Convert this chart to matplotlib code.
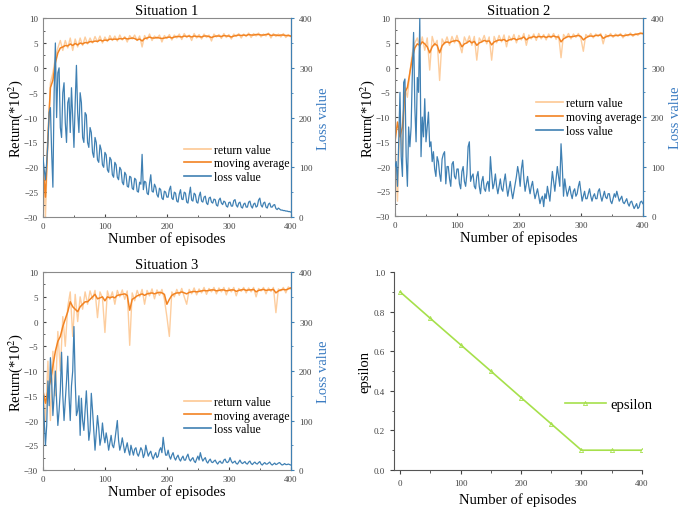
import matplotlib
matplotlib.use("Agg")
import matplotlib.pyplot as plt
from matplotlib.ticker import MultipleLocator, FormatStrFormatter
from matplotlib.lines import Line2D

plt.rcParams['font.family'] = ['Liberation Serif', 'DejaVu Serif']
plt.rcParams['mathtext.fontset'] = 'stix'

episodes = list(range(0, 401, 4))       # return / moving average samples
loss_episodes = list(range(0, 401, 2))  # loss samples

# Situation 1
return_1 = [-20, -30, -14, -3, -1, 2, 4, 5.5, 3.5, 5.5, 4.0, 6.0, 3.5, 5.8, 4.2, 6.0, 4.5, 6.2, 4.8, 6.0,
            5.0, 6.3, 5.2, 6.4, 5.0, 6.2, 5.3, 6.5, 5.5, 6.4, 5.4, 6.6, 5.6, 6.3, 5.2, 6.5, 5.8, 6.6, 5.5, 6.4,
            4.2, 6.5, 5.7, 6.8, 5.5, 6.4, 5.9, 6.6, 5.2, 6.5, 5.9, 6.7, 5.6, 6.6, 6.0, 6.8, 5.7, 6.9, 6.1, 6.6,
            5.5, 6.9, 6.0, 6.7, 5.8, 6.8, 6.1, 6.6, 5.4, 6.8, 6.2, 6.7, 5.9, 6.9, 6.1, 6.7, 5.8, 6.8, 6.3, 6.9,
            6.0, 6.8, 6.3, 7.0, 6.1, 6.9, 6.4, 7.0, 6.2, 6.8, 6.4, 7.0, 6.0, 6.9, 6.3, 6.8, 6.2, 6.9, 6.1, 6.7, 6.3]
moving_1 = [-20, -26, -14, -4, -2.5, 1, 3, 4, 4.2, 4.5, 4.4, 4.8, 4.5, 4.9, 4.6, 5.0, 4.8, 5.1, 5.0, 5.3,
            5.2, 5.4, 5.3, 5.6, 5.4, 5.6, 5.5, 5.8, 5.7, 5.8, 5.7, 5.9, 5.8, 6.0, 5.8, 5.9, 6.0, 5.9, 5.6, 5.8,
            5.4, 5.9, 6.0, 6.2, 6.0, 6.0, 6.1, 6.0, 5.9, 6.0, 6.1, 6.2, 6.0, 6.2, 6.3, 6.3, 6.2, 6.4, 6.3, 6.4,
            6.2, 6.4, 6.3, 6.3, 6.2, 6.4, 6.4, 6.3, 6.1, 6.3, 6.4, 6.4, 6.3, 6.5, 6.4, 6.4, 6.2, 6.4, 6.5, 6.6,
            6.5, 6.6, 6.5, 6.7, 6.6, 6.6, 6.7, 6.7, 6.6, 6.6, 6.7, 6.8, 6.5, 6.6, 6.6, 6.5, 6.6, 6.6, 6.5, 6.5, 6.4]
loss_1 = [120, 95, 75, 110, 150, 210, 220, 130, 60, 250, 350,
          200, 290, 300, 180, 160, 250, 270, 190, 150, 230,
          240, 170, 260, 200, 140, 230, 305, 210, 170, 250,
          230, 160, 150, 210, 205, 150, 140, 180, 170, 130,
          120, 160, 150, 115, 110, 145, 135, 105, 100, 130,
          125, 95, 90, 120, 115, 85, 80, 110, 105, 80,
          75, 100, 95, 70, 65, 90, 85, 62, 60, 82,
          80, 58, 55, 78, 75, 52, 50, 70, 66, 126,
          55, 72, 70, 48, 45, 68, 85, 52, 50, 66,
          60, 45, 40, 58, 55, 38, 35, 52, 50, 40,
          40, 55, 62, 38, 35, 50, 48, 32, 30, 46,
          55, 36, 35, 50, 48, 30, 28, 45, 60, 34,
          32, 48, 45, 30, 28, 42, 50, 32, 30, 40,
          42, 28, 25, 38, 40, 30, 28, 36, 35, 24,
          22, 34, 38, 28, 25, 32, 30, 22, 20, 29,
          30, 22, 22, 33, 35, 24, 20, 28, 30, 20,
          18, 26, 28, 20, 20, 30, 32, 22, 18, 26,
          28, 20, 22, 34, 38, 24, 20, 28, 30, 20,
          18, 26, 28, 20, 20, 24, 25, 17, 15, 18,
          16, 14, 14, 13, 13, 12, 12, 11, 11, 10]

# Situation 2
return_2 = [-15, -27, -10, -18, -4, -6, -1, 3, 5, 6, 4, 6.2, 3.5, 6.0, -0.5, 6.3, 4.5, 5.5, -2.6, 5.8,
            4.8, 6.2, 4.5, 6.3, 5.0, 6.5, 4.8, 3.0, 6.2, 5.0, 6.4, 4.5, 6.3, 1.5, 6.0, 5.2, 6.5, 4.8, 6.2, 1.5,
            6.3, 5.0, 6.5, 5.2, 6.6, 4.2, 6.4, 5.5, 6.7, 5.0, 6.5, 5.6, 6.9, 4.5, 6.6, 5.8, 6.8, 5.5, 6.9, 5.8,
            6.7, 5.6, 6.8, 6.0, 6.9, 5.7, 6.6, 2.0, 6.7, 6.0, 6.9, 5.8, 6.8, 6.1, 6.9, 5.9, 3.3, 6.7, 6.2, 6.9,
            6.0, 6.8, 6.3, 6.9, 4.8, 6.7, 6.2, 6.9, 6.1, 6.8, 6.3, 6.9, 6.0, 6.8, 6.4, 7.0, 6.3, 6.9, 6.5, 7.1, 6.8]
moving_2 = [-15, -11, -14, -12, -5, -4, -1, 2, 4, 4.8, 4.5, 5.2, 4.8, 4.2, 3.0, 4.2, 4.8, 4.5, 3.0, 4.4,
            5.0, 5.2, 5.0, 5.3, 5.4, 5.5, 5.2, 4.2, 4.8, 5.0, 5.4, 5.0, 5.3, 4.5, 5.0, 5.2, 5.5, 5.3, 5.4, 4.6,
            5.2, 5.4, 5.6, 5.5, 5.7, 5.3, 5.6, 5.7, 5.9, 5.6, 5.8, 5.9, 6.2, 5.6, 6.0, 6.1, 6.3, 6.1, 6.3, 6.2,
            6.3, 6.1, 6.3, 6.2, 6.4, 6.2, 6.2, 5.2, 5.8, 6.1, 6.3, 6.2, 6.3, 6.4, 6.5, 6.3, 5.6, 6.0, 6.3, 6.4,
            6.3, 6.5, 6.5, 6.6, 5.9, 6.2, 6.4, 6.5, 6.4, 6.5, 6.5, 6.6, 6.4, 6.5, 6.6, 6.7, 6.6, 6.7, 6.8, 6.9, 6.9]
loss_2 = [100, 110, 60, 150, 250, 120, 80, 270, 277, 120, 60,
          180, 140, 180, 290, 371, 220, 150, 280, 250, 400,
          120, 200, 160, 237, 150, 180, 210, 140, 150, 110,
          130, 95, 80, 120, 110, 85, 70, 115, 125, 130,
          65, 100, 100, 75, 60, 105, 110, 80, 75, 95,
          95, 65, 55, 90, 100, 70, 60, 85, 140, 150,
          70, 80, 85, 60, 55, 80, 90, 60, 45, 70,
          80, 55, 50, 65, 70, 50, 120, 85, 55, 65,
          85, 60, 45, 60, 75, 55, 50, 70, 85, 60,
          40, 55, 70, 50, 35, 50, 65, 80, 100, 85,
          60, 95, 113, 75, 50, 65, 80, 60, 45, 60,
          70, 50, 35, 45, 55, 40, 25, 35, 40, 19,
          45, 35, 60, 45, 30, 60, 90, 70, 50, 75,
          100, 80, 60, 146, 100, 40, 75, 55, 40, 50,
          60, 45, 35, 50, 55, 40, 45, 60, 70, 50,
          30, 40, 50, 35, 35, 45, 55, 40, 30, 40,
          45, 35, 35, 50, 55, 40, 30, 40, 50, 38,
          35, 45, 45, 30, 25, 35, 45, 38, 50, 40,
          30, 35, 40, 28, 25, 30, 35, 25, 20, 28,
          30, 22, 15, 20, 25, 15, 18, 28, 30, 25]

# Situation 3
return_3 = [-14, -20, -8, -20, -6, -15, -2, -10, 1, -5, 3, 6, -3, 5.5, 0, 5, 2.5, 6, 3.5, 6.2,
            4.5, 6.3, 0.8, 6.0, 4.8, -2.2, 6.2, 4.5, 6.0, 3.5, 6.3, 5.0, 6.4, 4.5, 6.2, -4.8, 5.8, 4.2, 6.3, 5.0,
            6.5, 3.5, 6.3, 5.2, 6.6, 4.6, 6.4, 5.3, 6.5, 4.5, 1.0, -3.0, 6.0, 5.0, 6.5, 5.3, 6.7, 5.0, 3.5, 6.5,
            5.6, 6.8, 5.4, 6.6, 5.8, 6.9, 5.5, 6.7, 6.0, 6.9, 5.6, 6.8, 6.0, 6.9, 5.4, 6.8, 6.0, 6.9, 5.2, 6.7,
            6.1, 6.9, 5.8, 6.8, 6.0, 6.9, 5.0, 6.7, 6.2, 6.9, 5.6, 6.8, 6.1, 6.9, 1.8, 6.6, 6.2, 6.9, 5.8, 7.0, 6.6]
moving_3 = [-14, -16.5, -14, -12, -9, -6, -4, -3, -1, 0.5, 2, 4, 3, 2.5, 2, 3, 3.5, 4, 4, 4.5,
            5, 5.5, 4.6, 4.8, 5.0, 4.2, 5.0, 4.8, 5.0, 4.8, 5.3, 5.4, 5.5, 5.6, 5.3, 2.3, 4.5, 4.8, 5.2, 5.4,
            5.6, 5.3, 5.6, 5.7, 5.8, 5.6, 5.8, 5.9, 5.8, 5.5, 3.5, 4.5, 5.3, 5.6, 5.8, 5.8, 6.0, 5.8, 5.6, 5.9,
            6.0, 6.1, 6.0, 6.1, 6.2, 6.3, 6.2, 6.3, 6.4, 6.4, 6.2, 6.3, 6.4, 6.4, 6.2, 6.3, 6.4, 6.4, 6.1, 6.3,
            6.4, 6.5, 6.3, 6.4, 6.4, 6.5, 6.0, 6.3, 6.4, 6.5, 6.3, 6.4, 6.4, 6.5, 5.8, 6.2, 6.4, 6.5, 6.4, 6.6, 6.8]
loss_3 = [150, 100, 50, 90, 180, 130, 227, 180, 110, 150, 200,
          140, 90, 120, 160, 238, 150, 100, 140, 180, 230,
          150, 100, 170, 200, 290, 180, 110, 120, 150, 70,
          145, 100, 80, 120, 160, 110, 60, 80, 155, 120,
          80, 40, 75, 110, 85, 50, 65, 95, 70, 55,
          75, 60, 40, 55, 70, 50, 45, 60, 80, 100,
          60, 40, 50, 65, 50, 35, 45, 55, 40, 30,
          50, 40, 30, 42, 45, 33, 28, 36, 45, 40,
          25, 32, 50, 38, 28, 34, 38, 28, 22, 30,
          35, 25, 28, 40, 45, 35, 66, 45, 30, 30,
          40, 28, 22, 30, 35, 25, 20, 26, 30, 22,
          18, 24, 28, 20, 20, 27, 32, 22, 18, 22,
          25, 18, 15, 22, 28, 20, 35, 25, 18, 22,
          25, 17, 14, 19, 22, 16, 15, 18, 20, 15,
          12, 16, 18, 14, 14, 20, 22, 16, 15, 18,
          25, 18, 14, 16, 18, 13, 12, 16, 20, 15,
          13, 15, 17, 13, 12, 16, 18, 13, 11, 14,
          16, 13, 12, 15, 17, 12, 10, 13, 15, 12,
          12, 14, 16, 12, 10, 12, 14, 11, 12, 14,
          15, 12, 10, 11, 13, 11, 11, 12, 11, 10]

# Epsilon
eps_episodes = [0, 50, 100, 150, 200, 250, 300, 350, 400]
epsilon = [0.9, 0.766, 0.633, 0.5, 0.366, 0.233, 0.1, 0.1, 0.1]

titles = ["Situation 1", "Situation 2", "Situation 3"]
legend_labels = ["return value", "moving average", "loss value"]
returns = [return_1, return_2, return_3]
movings = [moving_1, moving_2, moving_3]
losses = [loss_1, loss_2, loss_3]

C_RET = '#fdc894'
C_MOV = '#f28322'
C_LOSS = '#3f80b3'
C_LOSS_LBL = '#3b7cc2'
C_SPINE = '#8a8a8a'

fig = plt.figure(figsize=(7, 5.1), dpi=100)
positions = [[0.0614, 0.5725, 0.354, 0.390],
             [0.5643, 0.5745, 0.354, 0.388],
             [0.0614, 0.0765, 0.354, 0.388]]
legend_y = [0.17, 0.40, 0.175]

for i in range(3):
    ax = fig.add_axes(positions[i])
    ax.plot(episodes, returns[i], color=C_RET, lw=1.0, alpha=0.9, zorder=1)
    ax.plot(episodes, movings[i], color=C_MOV, lw=1.1, zorder=2)
    ax.set_xlim(0, 400)
    ax.set_ylim(-30, 10)
    ax.set_yticks(range(-30, 11, 5))
    ax.set_xticks(range(0, 401, 100))
    ax.yaxis.set_minor_locator(MultipleLocator(2.5))
    ax.xaxis.set_minor_locator(MultipleLocator(50))
    ax.tick_params(axis='both', which='both', direction='in', labelsize=6.5,
                   colors='#444444', length=2.5)
    ax.tick_params(which='minor', length=1.5)
    for s in ['left', 'bottom', 'top']:
        ax.spines[s].set_color(C_SPINE)
        ax.spines[s].set_linewidth(0.8)
    ax.set_title(titles[i], fontsize=10.5, pad=3)
    ax.set_xlabel("Number of episodes", fontsize=10.5, labelpad=1)
    ax.set_ylabel("Return(*10$^{2}$)", fontsize=10.5, labelpad=-1)

    ax2 = ax.twinx()
    ax2.plot(loss_episodes, losses[i], color=C_LOSS, lw=0.9, zorder=3)
    ax2.set_ylim(0, 400)
    ax2.set_yticks(range(0, 401, 100))
    ax2.yaxis.set_minor_locator(MultipleLocator(50))
    ax2.tick_params(axis='y', which='both', direction='out', labelsize=6.5,
                    colors='#444444', length=2.5)
    ax2.tick_params(axis='y', which='both', color=C_LOSS)
    ax2.tick_params(which='minor', length=1.5)
    ax2.spines['right'].set_color(C_LOSS)
    ax2.spines['right'].set_linewidth(0.8)
    for s in ['left', 'bottom', 'top']:
        ax2.spines[s].set_visible(False)
    ax2.set_ylabel("Loss value", fontsize=10.5, color=C_LOSS_LBL, labelpad=3)

    handles = [Line2D([], [], color=C_RET, lw=1.2),
               Line2D([], [], color=C_MOV, lw=1.2),
               Line2D([], [], color=C_LOSS, lw=1.2)]
    ax2.legend(handles, legend_labels,
               loc='lower left', bbox_to_anchor=(0.57, legend_y[i]), frameon=False,
               fontsize=8.5, handlelength=2.3, handletextpad=0.25, labelspacing=0.15,
               borderpad=0, borderaxespad=0)

# Epsilon panel
ax4 = fig.add_axes([0.563, 0.0765, 0.354, 0.388])
ax4.plot(eps_episodes, epsilon, color='#a6e04b', lw=1.2, marker='^', ms=3,
         markerfacecolor='none', markeredgewidth=0.6, label='epsilon')
ax4.set_xlim(-10, 400)
ax4.set_ylim(0, 1.0)
ax4.set_xticks(range(0, 401, 100))
ax4.set_yticks([0.0, 0.2, 0.4, 0.6, 0.8, 1.0])
ax4.yaxis.set_major_formatter(FormatStrFormatter('%.1f'))
ax4.xaxis.set_minor_locator(MultipleLocator(50))
ax4.yaxis.set_minor_locator(MultipleLocator(0.1))
ax4.tick_params(axis='both', which='both', direction='out', labelsize=6.5,
                colors='#444444', length=3)
ax4.tick_params(which='minor', length=1.8)
ax4.spines['top'].set_visible(False)
ax4.spines['right'].set_visible(False)
for s in ['left', 'bottom']:
    ax4.spines[s].set_color('#555555')
    ax4.spines[s].set_linewidth(0.8)
ax4.set_xlabel("Number of episodes", fontsize=10.5, labelpad=4)
ax4.set_ylabel("epsilon", fontsize=10.5, labelpad=2)
ax4.legend(loc='lower left', bbox_to_anchor=(0.69, 0.30), frameon=False,
           fontsize=10.5, handlelength=2.8, handletextpad=0.3, borderpad=0, borderaxespad=0)

fig.savefig("out.png", dpi=100)
